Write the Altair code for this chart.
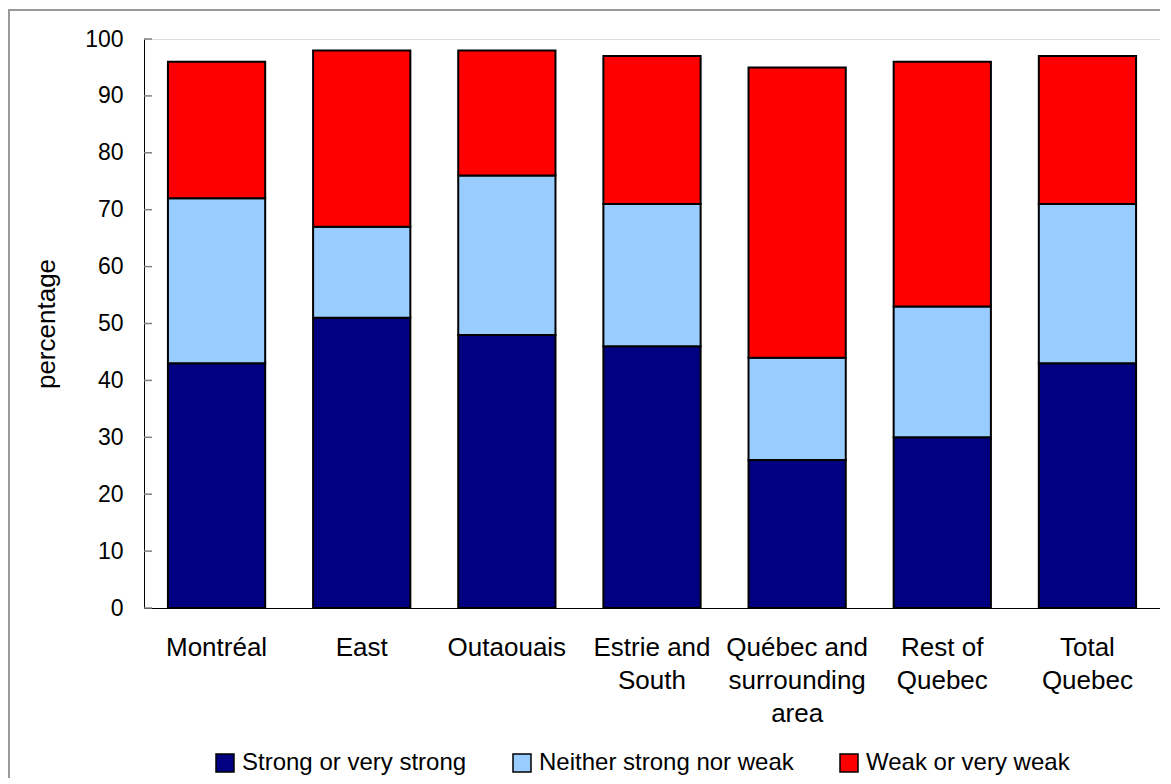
import altair as alt
import pandas as pd

regions = ["Montréal", "East", "Outaouais", "Estrie and South",
           "Québec and surrounding area", "Rest of Quebec", "Total Quebec"]
label_lines = [["Montréal"], ["East"], ["Outaouais"], ["Estrie and", "South"],
               ["Québec and", "surrounding", "area"], ["Rest of", "Quebec"], ["Total", "Quebec"]]
series = ["Strong or very strong", "Neither strong nor weak", "Weak or very weak"]
strong = [43, 51, 48, 46, 26, 30, 43]
neither = [29, 16, 28, 25, 18, 23, 28]
weak = [24, 31, 22, 26, 51, 43, 26]
colors = ["#000080", "#99CCFF", "#FF0000"]
y_ticks = list(range(0, 101, 10))

rows = []
for i, r in enumerate(regions):
    for k, (s, vals) in enumerate(zip(series, [strong, neither, weak])):
        rows.append({"region": r, "series": s, "value": vals[i], "order": k})
df = pd.DataFrame(rows)

expr = ""
for r, lines in zip(regions, label_lines):
    arr = "[" + ",".join("'" + l + "'" for l in lines) + "]"
    expr += f"datum.value == '{r}' ? {arr} : "
expr += "datum.value"

W, H = 1016, 569
FONT = "Liberation Sans"
yscale = alt.Scale(domain=[0, 100], nice=False)

bars = alt.Chart(df).mark_bar(stroke="black", strokeWidth=2).encode(
    x=alt.X("region:N", sort=regions, title=None,
            scale=alt.Scale(paddingInner=0.33, paddingOuter=0.165),
            axis=alt.Axis(labelAngle=0, labelExpr=expr, ticks=False, domainColor="black",
                          domainWidth=1, labelFontSize=26, labelPadding=26,
                          labelLineHeight=33, labelColor="black", labelFont=FONT)),
    y=alt.Y("value:Q", stack="zero", title="percentage", scale=yscale,
            axis=alt.Axis(values=y_ticks, grid=False, ticks=False, tickSize=0,
                          domainColor="black", labelFontSize=23,
                          labelColor="black", labelPadding=21, titleFontSize=26,
                          titleFontWeight="normal", titleColor="black", titlePadding=25,
                          labelFont=FONT, titleFont=FONT)),
    color=alt.Color("series:N", sort=series,
                    scale=alt.Scale(domain=series, range=colors),
                    legend=alt.Legend(title=None, orient="none", direction="horizontal",
                                      legendX=69, legendY=712, symbolType="square",
                                      symbolSize=324, symbolStrokeColor="black",
                                      symbolStrokeWidth=1.5, labelFontSize=24,
                                      labelColor="black", labelFont=FONT, labelLimit=0,
                                      columnPadding=43, labelOffset=5, symbolOpacity=1)),
    order=alt.Order("order:Q"),
)

ticks = alt.Chart(pd.DataFrame({"t": y_ticks})).mark_rule(color="#808080", strokeWidth=1.5).encode(
    y=alt.Y("t:Q", scale=yscale), x=alt.value(0), x2=alt.value(8)
)

border = alt.Chart(pd.DataFrame({"a": [0]})).mark_rect(
    fill=None, stroke="#9a9a9a", strokeWidth=2
).encode(x=alt.value(-135), x2=alt.value(W + 20), y=alt.value(-29), y2=alt.value(H + 190))

chart = alt.layer(border, bars, ticks).properties(
    width=W, height=H,
    autosize=alt.AutoSizeParams(type="none"),
    padding={"left": 136, "top": 31, "right": 0, "bottom": 170},
).configure_view(stroke=None).configure(background="white")

chart.save("out.html", embed_options={"renderer": "svg", "actions": False})
